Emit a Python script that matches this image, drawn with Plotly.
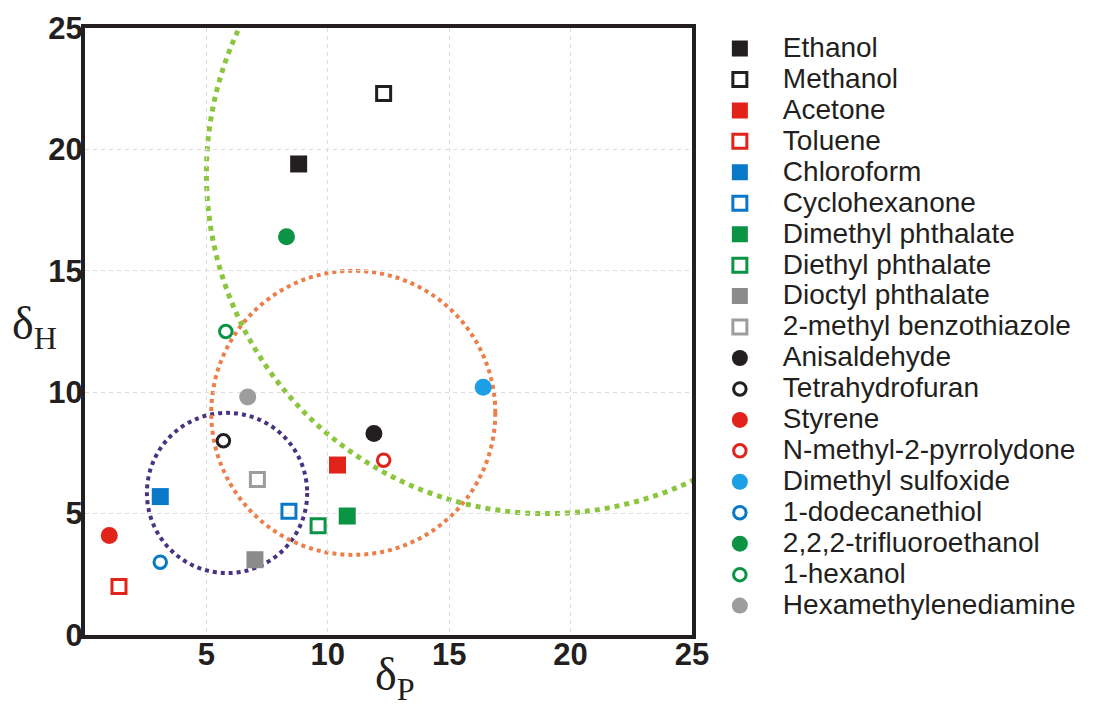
import plotly.graph_objects as go

# ---- data ----
solvents = ["Ethanol", "Methanol", "Acetone", "Toluene", "Chloroform", "Cyclohexanone",
            "Dimethyl phthalate", "Diethyl phthalate", "Dioctyl phthalate",
            "2-methyl benzothiazole", "Anisaldehyde", "Tetrahydrofuran", "Styrene",
            "N-methyl-2-pyrrolydone", "Dimethyl sulfoxide", "1-dodecanethiol",
            "2,2,2-trifluoroethanol", "1-hexanol", "Hexamethylenediamine"]
delta_p = [8.8, 12.3, 10.4, 1.4, 3.1, 8.4, 10.8, 9.6, 7.0, 7.1, 11.9, 5.7, 1.0, 12.3, 16.4, 3.1, 8.3, 5.8, 6.7]
delta_h = [19.4, 22.3, 7.0, 2.0, 5.7, 5.1, 4.9, 4.5, 3.1, 6.4, 8.3, 8.0, 4.1, 7.2, 10.2, 3.0, 16.4, 12.5, 9.8]

# dotted solubility circles: centre (dP, dH) and radius
circle_cp = [5.85, 11.05, 19.0]
circle_ch = [5.85, 9.15, 19.0]
circle_r = [3.3, 5.85, 14.0]

x_ticks = [5, 10, 15, 20, 25]
y_ticks = [0, 5, 10, 15, 20, 25]

# ---- styles ----
BLACK = "#231f20"
RED = "#e2231a"
BLUE = "#0a78c8"
LBLUE = "#1c9fe4"
GREEN = "#0a9444"
GRAY = "#8b8b8b"
LGRAY = "#9d9d9d"

styles = [
    ("square", BLACK), ("square-open", BLACK), ("square", RED), ("square-open", RED),
    ("square", BLUE), ("square-open", BLUE), ("square", GREEN), ("square-open", GREEN),
    ("square", GRAY), ("square-open", LGRAY), ("circle", BLACK), ("circle-open", BLACK),
    ("circle", RED), ("circle-open", RED), ("circle", LBLUE), ("circle-open", BLUE),
    ("circle", GREEN), ("circle-open", GREEN), ("circle", LGRAY),
]
circle_colors = ["#4a3282", "#ec7e4a", "#8cc63f"]
circle_widths = [4, 4, 5]

fig = go.Figure()
for name, xp, yh, (sym, col) in zip(solvents, delta_p, delta_h, styles):
    is_open = sym.endswith("open")
    if is_open:
        size = 14 if sym.startswith("square") else 12.5
        mk = dict(symbol=sym, size=size, color=col, line=dict(color=col, width=3))
    else:
        mk = dict(symbol=sym, size=17, color=col, line=dict(width=0))
    fig.add_trace(go.Scatter(
        x=[xp], y=[yh], mode="markers", marker=mk,
        name=f'<span style="font-size:28px">{name}</span>',
    ))

for cp, ch, r, c, w in zip(circle_cp, circle_ch, circle_r, circle_colors, circle_widths):
    fig.add_shape(type="circle", xref="x", yref="y",
                  x0=cp - r, x1=cp + r, y0=ch - r, y1=ch + r,
                  line=dict(color=c, width=w, dash="dot"), layer="below")

axis_common = dict(
    showline=True, linewidth=4, linecolor=BLACK, mirror=True,
    showgrid=True, gridcolor="#dcdcdc", gridwidth=1, griddash="4px,4px",
    zeroline=False, ticks="", automargin=False,
    tickfont=dict(family="Liberation Sans, Arial", size=31, color=BLACK, weight="bold"),
)
fig.update_xaxes(range=[0, 25], tickvals=x_ticks, ticklabelstandoff=-11, **axis_common)
fig.update_yaxes(range=[0, 25], tickvals=y_ticks, ticklabelstandoff=-8, **axis_common)

fig.add_annotation(xref="paper", yref="paper", x=-0.123, y=0.507, xanchor="left", yanchor="middle",
                   text="δ<sub>H</sub>", showarrow=False,
                   font=dict(family="Liberation Serif, Times New Roman", size=46, color=BLACK))
fig.add_annotation(xref="paper", yref="paper", x=0.4744, y=-0.071, xanchor="left", yanchor="middle",
                   text="δ<sub>P</sub>", showarrow=False,
                   font=dict(family="Liberation Serif, Times New Roman", size=46, color=BLACK))

fig.update_layout(
    width=1104, height=704,
    margin=dict(l=77, r=420, t=20, b=77),
    paper_bgcolor="white", plot_bgcolor="white",
    showlegend=True,
    legend=dict(x=1.008, y=1.0, xanchor="left", yanchor="top", maxheight=704,
                font=dict(family="Liberation Sans, Arial", size=21.5, color=BLACK),
                itemwidth=76, bgcolor="rgba(0,0,0,0)", borderwidth=0),
)

fig.write_html("out.html")
